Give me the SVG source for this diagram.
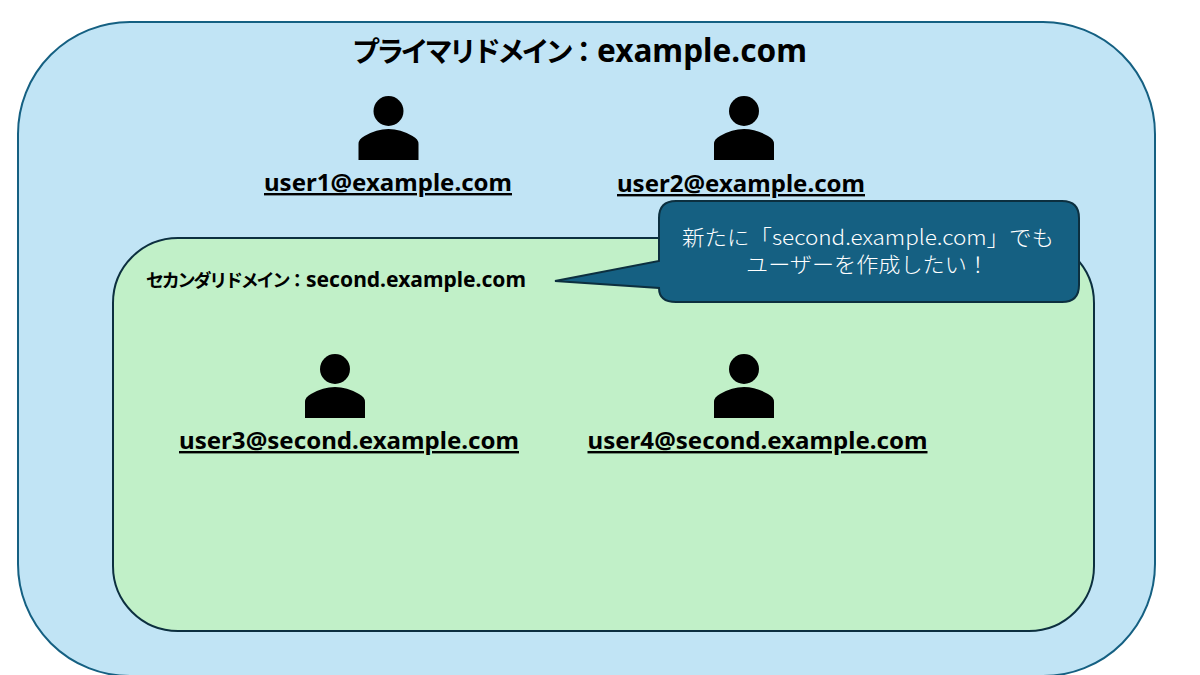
<svg xmlns="http://www.w3.org/2000/svg" width="1200" height="675" viewBox="0 0 1200 675">
<style>
text{font-family:"Noto Sans","Noto Sans CJK JP",sans-serif;font-weight:700;fill:#000}
.u{font-size:24px;text-decoration:underline;text-anchor:middle}
.j{font-family:"Noto Sans CJK JP",sans-serif}
.c{fill:#fff;font-weight:300;font-family:"Noto Sans CJK JP",sans-serif;font-size:21px}
</style>
<defs>
<g id="person"><circle cx="0" cy="15" r="15"/><path d="M-30 64V48Q-30 43-24 40Q-12 33 0 33Q12 33 24 40Q30 43 30 48V64Z"/></g>
</defs>
<rect width="1200" height="675" fill="#fff"/>
<g id="primary-domain">
<rect x="18" y="22" width="1137" height="654" rx="112" ry="112" fill="#c1e4f5" stroke="#156082" stroke-width="2"/>
<text y="62" font-size="32"><tspan class="j" x="352" font-size="28" letter-spacing="-3.8">プライマリドメイン：</tspan><tspan x="597" textLength="210" lengthAdjust="spacingAndGlyphs">example.com</tspan></text>
</g>
<g id="user1"><use href="#person" x="388.500" y="96"/><text class="u" x="388" y="191" textLength="248" lengthAdjust="spacingAndGlyphs">user1@example.com</text></g>
<g id="user2"><use href="#person" x="744" y="96"/><text class="u" x="741" y="192" textLength="248" lengthAdjust="spacingAndGlyphs">user2@example.com</text></g>
<g id="secondary-domain">
<rect x="113" y="238" width="981" height="393" rx="65" ry="65" fill="#c1f0c8" stroke="#0c2f3f" stroke-width="2"/>
<text y="287" font-size="21"><tspan class="j" x="146" font-size="18" letter-spacing="-2.2">セカンダリドメイン：</tspan><tspan x="306" textLength="220" lengthAdjust="spacingAndGlyphs">second.example.com</tspan></text>
</g>
<g id="user3"><use href="#person" x="335" y="354"/><text class="u" x="349" y="449" textLength="340" lengthAdjust="spacingAndGlyphs">user3@second.example.com</text></g>
<g id="user4"><use href="#person" x="744" y="354"/><text class="u" x="757.500" y="449" textLength="340" lengthAdjust="spacingAndGlyphs">user4@second.example.com</text></g>
<g id="callout">
<path d="M676 201H1062Q1079 201 1079 218V285Q1079 302 1062 302H676Q659 302 659 288L555 281L659 261V218Q659 201 676 201Z" fill="#156082" stroke="#0c2f3f" stroke-width="2"/>
<text class="c"><tspan x="682" y="245" textLength="372" lengthAdjust="spacingAndGlyphs">新たに「second.example.com」でも</tspan><tspan x="746" y="272" textLength="243" lengthAdjust="spacingAndGlyphs">ユーザーを作成したい！</tspan></text>
</g>
<g id="connectors"></g>
</svg>
